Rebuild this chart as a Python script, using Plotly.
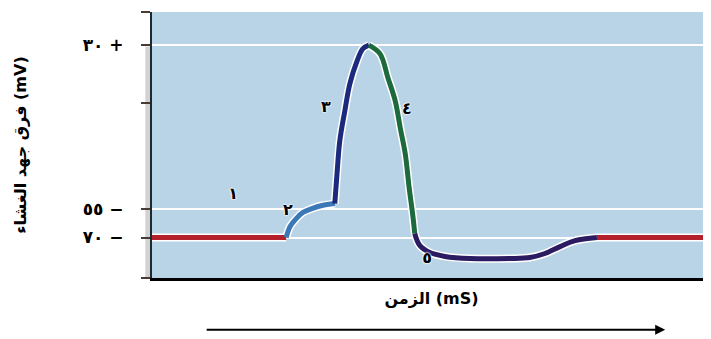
import plotly.graph_objects as go

# membrane potential (mV) against time (ms)
rest_t = [0, 2.4]
rest_v = [-70, -70]
phase2_t = [2.4, 2.47, 2.58, 2.7, 2.86, 3.04, 3.27]
phase2_v = [-70, -64.3, -60.2, -57.0, -55.0, -53.4, -52.4]
phase3_t = [3.27, 3.31, 3.36, 3.45, 3.54, 3.67, 3.77, 3.88]
phase3_v = [-52.4, -36.8, -19.7, -4.2, 9.8, 21.7, 27.9, 29.8]
phase4_t = [3.88, 4.08, 4.22, 4.35, 4.44, 4.53, 4.6, 4.67, 4.7]
phase4_v = [29.8, 25.3, 12.9, 1.0, -13.0, -26.5, -44.1, -59.6, -67.9]
phase5_t = [4.7, 4.79, 4.97, 5.24, 5.69, 6.4, 6.76, 7.03, 7.3, 7.57, 7.96]
phase5_v = [-67.9, -74.1, -77.8, -79.8, -80.9, -80.9, -80.4, -78.3, -74.7, -71.6, -70.0]
rest2_t = [7.96, 10]
rest2_v = [-70, -70]

label_text = ["١", "٢", "٣", "٤", "٥"]
label_t = [1.45, 2.43, 3.11, 4.56, 4.92]
label_v = [-48, -56, -3, -4, -81]

tick_vals = [30, -55, -70]
tick_text = ["٣٠ +", "٥٥ −", "٧٠ −"]

segments = [
    (rest_t, rest_v, "#b3202c"),
    (phase2_t, phase2_v, "#3b78b8"),
    (phase3_t, phase3_v, "#1b2a7c"),
    (phase4_t, phase4_v, "#1d6b3c"),
    (phase5_t, phase5_v, "#2b1b62"),
    (rest2_t, rest2_v, "#b3202c"),
]

fig = go.Figure()
for t, v, c in segments:
    fig.add_trace(go.Scatter(x=t, y=v, mode="lines", line=dict(color="white", width=8, shape="spline"),
                             hoverinfo="skip", showlegend=False))
for t, v, c in segments:
    fig.add_trace(go.Scatter(x=t, y=v, mode="lines", line=dict(color=c, width=5, shape="spline"),
                             showlegend=False))

fig.add_trace(go.Scatter(
    x=label_t, y=label_v, mode="text", text=label_text, showlegend=False,
    textfont=dict(family="DejaVu Sans", size=16, color="black", weight="bold",
                  shadow="0 0 2px white, 0 0 2px white, 0 0 2px white"),
))

# grey strip to the left of the y axis
fig.add_shape(type="rect", xref="paper", yref="paper", x0=-0.012, x1=0, y0=0, y1=0.87,
              fillcolor="#d2d2d2", line_width=0, layer="below")

fig.add_annotation(
    xref="paper", yref="paper", x=0.918, y=-0.195, ax=-460, ay=0,
    showarrow=True, arrowhead=2, arrowsize=1, arrowwidth=2, arrowcolor="black", text="",
)

# the page body adds an 8px margin, so the figure is a bit smaller than the window
fig.update_layout(
    width=703, height=331,
    margin=dict(l=144, r=0, t=4, b=61),
    paper_bgcolor="white",
    plot_bgcolor="#bad4e7",
    font=dict(family="DejaVu Sans", color="black"),
    xaxis=dict(range=[0, 10], showgrid=False, zeroline=False, showticklabels=False, ticks="",
               showline=True, linecolor="black", linewidth=3,
               title=dict(text="الزمن (mS)", font=dict(size=16, weight="bold"), standoff=13)),
    yaxis=dict(range=[-91, 47], tickvals=tick_vals, ticktext=tick_text,
               tickfont=dict(size=17, weight="bold"), ticks="outside", ticklen=9,
               tickcolor="#4a3a30", tickwidth=2, ticklabelstandoff=14,
               showgrid=True, gridcolor="white", gridwidth=2, zeroline=False,
               showline=True, linecolor="#1c2a30", linewidth=2,
               minor=dict(tickvals=[47, 0, -91], ticks="outside", ticklen=9, tickcolor="#4a3a30",
                          tickwidth=2, showgrid=False),
               title=dict(text="فرق جهد الغشاء (mV)", font=dict(size=16, weight="bold"), standoff=52)),
)

fig.write_html("out.html")
